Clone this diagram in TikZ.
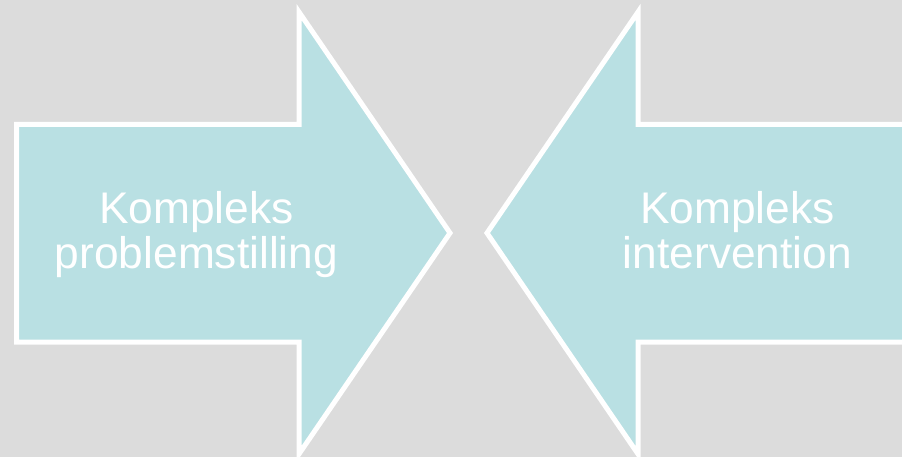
\documentclass[tikz,border=0pt]{standalone}
\usepackage{fontspec}
\setmainfont{Liberation Sans}
\definecolor{bgc}{RGB}{220,220,220}
\definecolor{arrowfill}{RGB}{185,224,227}
\begin{document}
\begin{tikzpicture}[x=1pt,y=-1pt,
  arrowshape/.style={fill=arrowfill,draw=white,line width=5pt,line join=miter},
  lbl/.style={text=white,anchor=base,inner sep=0pt,font=\fontsize{44.3}{45}\selectfont}]
\useasboundingbox (0,0) rectangle (902,457);
\fill[bgc] (0,0) rectangle (902,457);
\begin{scope}
\clip (0,0) rectangle (902,457);
\draw[arrowshape] (16.5,124.5) -- (299,124.5) -- (299,12) -- (450,233) -- (299,454) -- (299,342) -- (16.5,342) -- cycle;
\draw[arrowshape] (915,124.5) -- (638,124.5) -- (638,12) -- (487,233) -- (638,454) -- (638,342) -- (915,342) -- cycle;
\end{scope}
\node[lbl] (l1) at (196.5,223) {Kompleks};
\node[lbl] (l2) at (196.5,268) {problemstilling};
\node[lbl] (r1) at (737.5,223) {Kompleks};
\node[lbl] (r2) at (737.5,268) {intervention};
\end{tikzpicture}
\end{document}
